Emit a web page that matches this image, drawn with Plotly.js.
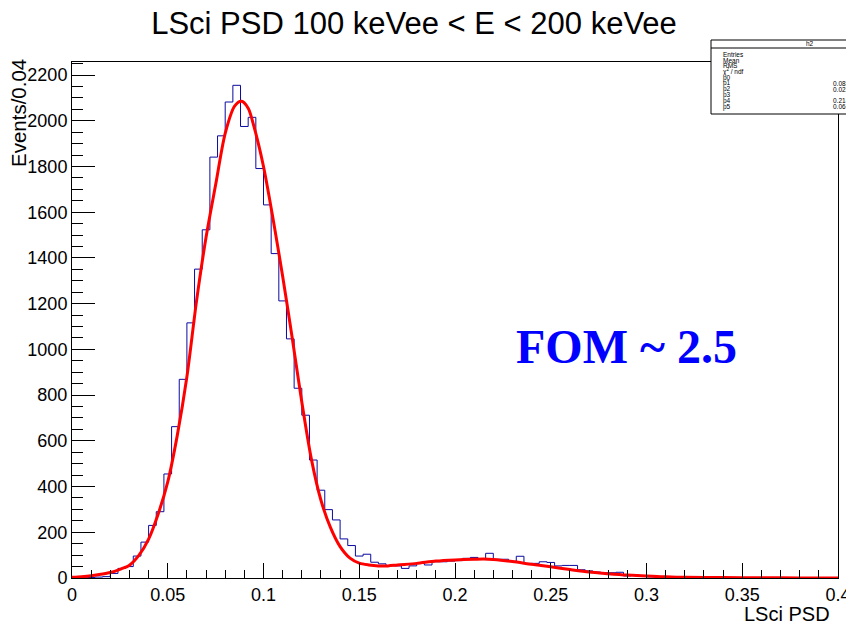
<!DOCTYPE html>
<html>
<head>
<meta charset="utf-8">
<script src="https://cdn.plot.ly/plotly-3.0.1.min.js"></script>
<style>
html,body{margin:0;padding:0;overflow:hidden;background:#fff;}
#chart{width:846px;height:624px;}
</style>
</head>
<body>
<div id="chart"></div>
<script>
// ---- data ----
const binWidth = 0.004;
const binStart = 0;
// counts per bin (100 bins, 0 .. 0.4)
const counts = [
  0, 1, 2, 4, 6, 20, 42, 50, 96, 157,
  230, 290, 455, 662, 869, 1116, 1351, 1523, 1841, 1934,
  2082, 2155, 1975, 2015, 1791, 1632, 1419, 1212, 1046, 830,
  712, 516, 384, 299, 254, 171, 142, 96, 104, 69,
  62, 54, 53, 42, 53, 64, 57, 71, 71, 74,
  76, 86, 90, 85, 108, 82, 82, 73, 95, 64,
  64, 71, 68, 53, 55, 55, 36, 31, 26, 23,
  23, 25, 9, 13, 8, 5, 4, 3, 3, 2,
  2, 1, 1, 1, 0, 1, 0, 0, 0, 0,
  0, 0, 0, 0, 0, 0, 0, 0, 0, 0
];
// fit curve
const fitX = [0, 0.005, 0.01, 0.015, 0.02, 0.025, 0.03, 0.035, 0.04, 0.045,
  0.05, 0.055, 0.06, 0.065, 0.07, 0.075, 0.08, 0.085, 0.0885, 0.092,
  0.095, 0.1, 0.105, 0.11, 0.115, 0.12, 0.125, 0.13, 0.135, 0.14,
  0.145, 0.15, 0.155, 0.16, 0.165, 0.17, 0.18, 0.19, 0.2, 0.21,
  0.215, 0.22, 0.23, 0.24, 0.25, 0.26, 0.27, 0.28, 0.29, 0.3,
  0.31, 0.32, 0.34, 0.36, 0.38, 0.4];
const fitY = [3, 6, 10, 16, 24, 38, 56, 100, 170, 280,
  420, 625, 880, 1210, 1490, 1720, 1945, 2065, 2085, 2055,
  1975, 1800, 1570, 1320, 1050, 770, 520, 340, 220, 137,
  88, 65, 57, 53, 53, 57, 64, 74, 79, 82,
  83, 81, 72, 60, 49, 37, 26, 19, 13, 9,
  5, 3, 2, 1, 0.5, 0.3];

const xTickVals = [0, 0.05, 0.1, 0.15, 0.2, 0.25, 0.3, 0.35, 0.4];
const xTickText = ["0", "0.05", "0.1", "0.15", "0.2", "0.25", "0.3", "0.35", "0.4"];
const yTickVals = [0, 200, 400, 600, 800, 1000, 1200, 1400, 1600, 1800, 2000, 2200];
const yTickText = ["0", "200", "400", "600", "800", "1000", "1200", "1400", "1600", "1800", "2000", "2200"];

const titleText = "LSci PSD 100 keVee &lt; E &lt; 200 keVee";
const xTitle = "LSci PSD";
const yTitle = "Events/0.04";
const fomText = "FOM ~ 2.5";
const statsName = "h2";
const statsLabels = ["Entries", "Mean", "RMS", "\u03c7<sup>2</sup> / ndf", "p0", "p1", "p2", "p3", "p4", "p5"];
const statsValues = ["", "", "", "", "", "0.0857", "0.0226", "", "0.214", "0.061"];

// ---- build histogram outline (step) ----
const edges = counts.map((c, i) => binStart + i * binWidth);
edges.push(binStart + counts.length * binWidth);
const stepY = counts.concat([counts[counts.length - 1]]);

// ---- layout geometry ----
const W = 846, H = 624, L = 72, R = 8, T = 62, B = 46;
const pw = W - L - R, ph = H - T - B;
const fx = px => (px - L) / pw;
const fy = py => (H - B - py) / ph;
const FONT = "Liberation Sans, Arial, Helvetica, sans-serif";

const traces = [
  {
    x: edges, y: stepY, type: "scatter", mode: "lines",
    line: {shape: "hv", color: "#0a0aa0", width: 1},
    hoverinfo: "skip"
  },
  {
    x: fitX, y: fitY, type: "scatter", mode: "lines",
    line: {shape: "spline", smoothing: 0.8, color: "#ff0000", width: 3},
    hoverinfo: "skip"
  }
];

const annotations = [
  {text: yTitle, xref: "paper", yref: "paper", x: fx(18), y: fy(57),
   xanchor: "center", yanchor: "top", textangle: -90, showarrow: false,
   font: {family: FONT, size: 20.5, color: "#000"}},
  {text: xTitle, xref: "paper", yref: "paper", x: fx(832), y: fy(614),
   xanchor: "right", yanchor: "middle", showarrow: false,
   font: {family: FONT, size: 20, color: "#000"}},
  {text: "<b>" + fomText + "</b>", xref: "paper", yref: "paper", x: fx(626), y: fy(346),
   xanchor: "center", yanchor: "middle", showarrow: false,
   font: {family: "Liberation Serif, Times New Roman, serif", size: 48, color: "#0000ff"}},
  {text: statsName, xref: "paper", yref: "paper", x: fx(810), y: fy(44),
   xanchor: "center", yanchor: "middle", showarrow: false,
   font: {family: FONT, size: 6.5, color: "#000"}}
];
statsLabels.forEach((lab, k) => {
  const py = 54.3 + 5.8 * k;
  annotations.push({text: lab, xref: "paper", yref: "paper", x: fx(721), y: fy(py),
    xanchor: "left", yanchor: "middle", showarrow: false,
    font: {family: FONT, size: 6.5, color: "#000"}});
  if (statsValues[k]) {
    annotations.push({text: statsValues[k], xref: "paper", yref: "paper", x: fx(831), y: fy(py),
      xanchor: "left", yanchor: "middle", showarrow: false,
      font: {family: FONT, size: 6.5, color: "#000"}});
  }
});

const shapes = [
  {type: "rect", xref: "paper", yref: "paper", x0: fx(711), x1: fx(852), y0: fy(114), y1: fy(40),
   line: {color: "#000", width: 1}, fillcolor: "#fff", layer: "above"},
  {type: "line", xref: "paper", yref: "paper", x0: fx(711), x1: fx(852), y0: fy(48), y1: fy(48),
   line: {color: "#000", width: 1}, layer: "above"}
];

const layout = {
  width: W, height: H,
  margin: {l: L, r: R, t: T, b: B, pad: 0},
  paper_bgcolor: "#fff", plot_bgcolor: "#fff",
  showlegend: false,
  title: {text: titleText, xref: "paper", x: fx(414), xanchor: "center",
          yref: "container", y: 1 - 23 / H, yanchor: "middle",
          font: {family: FONT, size: 31, color: "#000"}},
  xaxis: {
    range: [0, 0.4], showgrid: false, zeroline: false,
    showline: true, mirror: true, linecolor: "#000", linewidth: 1,
    ticks: "inside", ticklen: 15, tickwidth: 1, tickcolor: "#000",
    tickvals: xTickVals, ticktext: xTickText,
    ticklabeloverflow: "allow",
    minor: {ticks: "inside", ticklen: 8, dtick: 0.01, tick0: 0, tickcolor: "#000", tickwidth: 1, showgrid: false},
    tickfont: {family: FONT, size: 18, color: "#000"}
  },
  yaxis: {
    range: [0, 2257], showgrid: false, zeroline: false,
    showline: true, mirror: true, linecolor: "#000", linewidth: 1,
    ticks: "inside", ticklen: 23, tickwidth: 1, tickcolor: "#000",
    tickvals: yTickVals, ticktext: yTickText,
    minor: {ticks: "inside", ticklen: 11, dtick: 50, tick0: 0, tickcolor: "#000", tickwidth: 1, showgrid: false},
    tickfont: {family: FONT, size: 18, color: "#000"},
    ticklabelstandoff: 0
  },
  annotations: annotations,
  shapes: shapes
};

Plotly.newPlot("chart", traces, layout, {displayModeBar: false, staticPlot: true});
</script>
</body>
</html>
